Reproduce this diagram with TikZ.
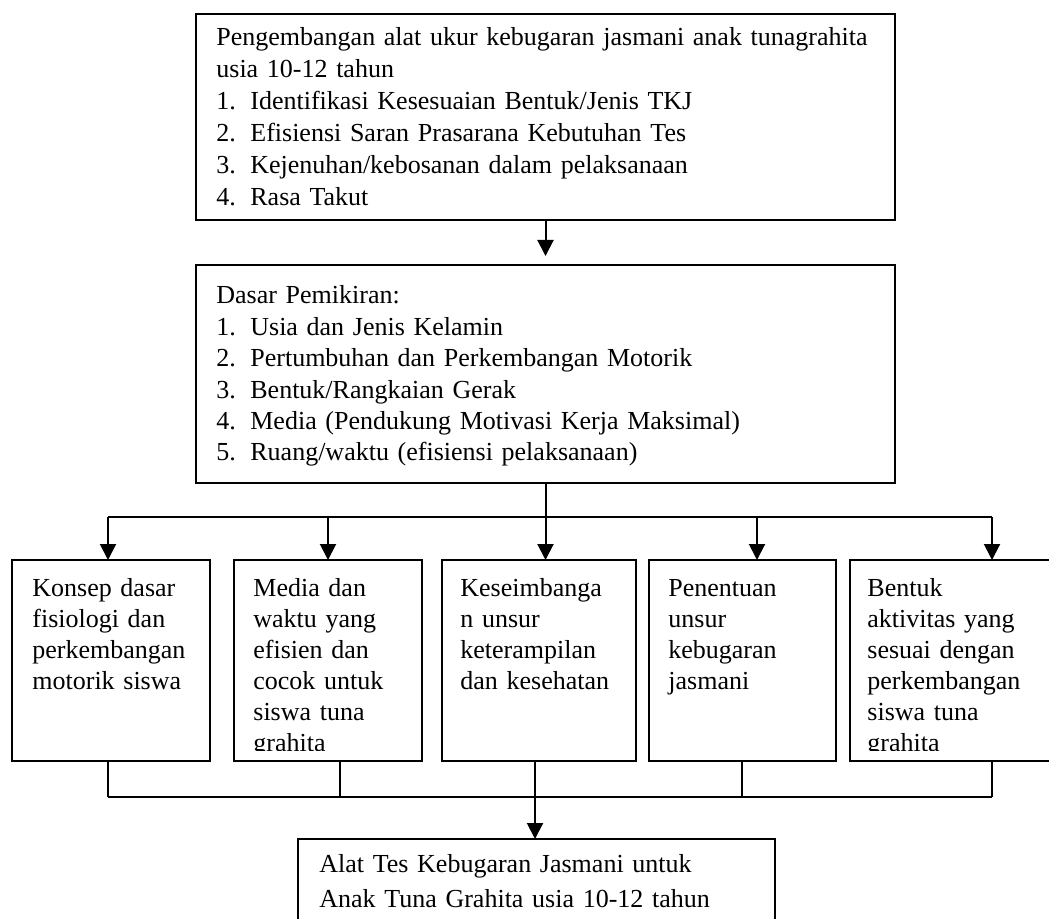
\documentclass[tikz,border=0pt]{standalone}
\usepackage{fontspec}
\setmainfont{Liberation Serif}
\usetikzlibrary{arrows.meta}
\tikzset{
  box/.style={draw,line width=1pt,anchor=north west,inner sep=0pt,outer sep=0pt},
  txt/.style={anchor=base west,inner sep=0pt,align=left,text width=340pt,font=\fontsize{13}{15.5}\selectfont},
  arr/.style={line width=1pt,-{Triangle[length=8pt,width=8pt]}},
  ln/.style={line width=1pt}
}
\newcommand{\nr}[1]{\makebox[17pt][l]{#1}}

\begin{document}
\begin{tikzpicture}[x=0.5pt,y=-0.5pt]
        \useasboundingbox (0,0) rectangle (1049,919);
        \clip (0,0) rectangle (1049,919);
        % boxes
        \node[box,minimum width=349.5pt,minimum height=103pt] (top) at (196,14) {};
        \node[box,minimum width=349.5pt,minimum height=109pt] (dasar) at (196,265) {};
        \node[box,minimum width=99pt,minimum height=100.5pt] (k1) at (12,560) {};
        \node[box,minimum width=94pt,minimum height=100.5pt] (k2) at (234,560) {};
        \node[box,minimum width=97pt,minimum height=100.5pt] (k3) at (442,560) {};
        \node[box,minimum width=93.5pt,minimum height=100.5pt] (k4) at (649,560) {};
        \node[box,minimum width=105pt,minimum height=100.5pt] (k5) at (850,560) {};
        \node[box,minimum width=238.5pt,minimum height=45pt] (alat) at (298,839) {};
        % texts
        \node[txt,font=\fontsize{13}{16}\selectfont] (ttop) at (216,46) {Pengembangan alat ukur kebugaran jasmani anak tunagrahita\\
          usia 10-12 tahun\\
          \nr{1.}Identifikasi Kesesuaian Bentuk/Jenis TKJ\\
          \nr{2.}Efisiensi Saran Prasarana Kebutuhan Tes\\
          \nr{3.}Kejenuhan/kebosanan dalam pelaksanaan\\
          \nr{4.}Rasa Takut};
        \node[txt,font=\fontsize{13}{15.7}\selectfont] (tdasar) at (216,304) {Dasar Pemikiran:\\
          \nr{1.}Usia dan Jenis Kelamin\\
          \nr{2.}Pertumbuhan dan Perkembangan Motorik\\
          \nr{3.}Bentuk/Rangkaian Gerak\\
          \nr{4.}Media (Pendukung Motivasi Kerja Maksimal)\\
          \nr{5.}Ruang/waktu (efisiensi pelaksanaan)};
        \begin{scope}
          \clip (0,0) rectangle (1049,750);
          \node[txt] (t1) at (32,596) {Konsep dasar\\fisiologi dan\\perkembangan\\motorik siswa};
          \node[txt] (t2) at (253,596) {Media dan\\waktu yang\\efisien dan\\cocok untuk\\siswa tuna\\grahita};
          \node[txt] (t3) at (460,596) {Keseimbanga\\n unsur\\keterampilan\\dan kesehatan};
          \node[txt] (t4) at (668,596) {Penentuan\\unsur\\kebugaran\\jasmani};
          \node[txt] (t5) at (867,596) {Bentuk\\aktivitas yang\\sesuai dengan\\perkembangan\\siswa tuna\\grahita};
        \end{scope}
        \node[txt,font=\fontsize{13}{17.5}\selectfont] (talat) at (319,872) {Alat Tes Kebugaran Jasmani untuk\\
          Anak Tuna Grahita usia 10-12 tahun};
        % connectors
        \coordinate (b1) at (108,517);
        \coordinate (b2) at (328,517);
        \coordinate (b3) at (545.5,517);
        \coordinate (b4) at (757,517);
        \coordinate (b5) at (992,517);
        \coordinate (c1) at (108,797);
        \coordinate (c2) at (340,797);
        \coordinate (c3) at (535,797);
        \coordinate (c4) at (742,797);
        \coordinate (c5) at (992,797);
        \draw[arr] (top.south) -- ([yshift=4.5pt]dasar.north);
        \draw[ln] (dasar.south) -- (b3);
        \draw[ln] (b1) -- (b5);
        \foreach \i in {1,...,5}
          \draw[arr] (b\i) -- (b\i |- k\i.north);
        \foreach \i in {1,...,5}
          \draw[ln] (c\i |- k\i.south) -- (c\i);
        \draw[ln] (c1) -- (c5);
        \draw[arr] (c3) -- (c3 |- alat.north);
    \end{tikzpicture}
\end{document}
